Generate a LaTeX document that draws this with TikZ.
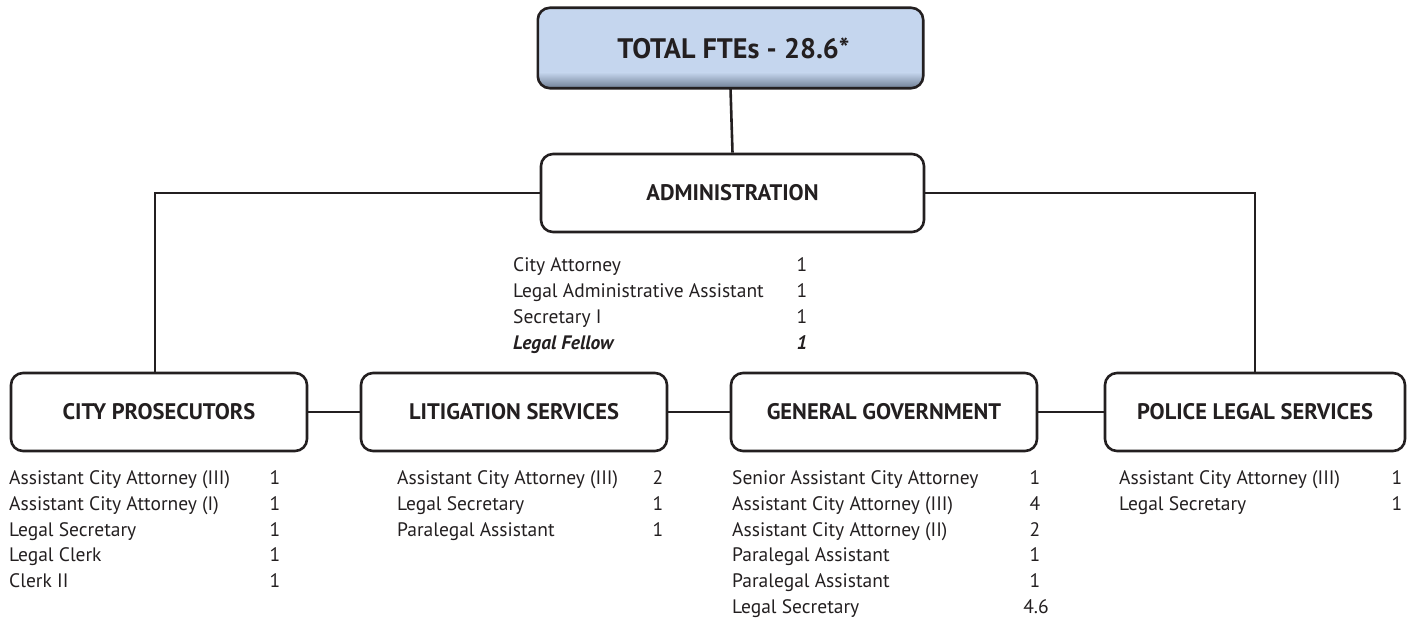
\documentclass[tikz,border=0pt]{standalone}
\usepackage{fontspec}
\setmainfont{PT Sans}
\usetikzlibrary{calc}
\definecolor{txt}{HTML}{231F20}
\definecolor{topfill}{HTML}{C5D6EE}
\definecolor{topshade}{HTML}{6F7E94}
\begin{document}
\begin{tikzpicture}[x=1pt,y=-1pt,
  box/.style={draw=txt, line width=2.6pt, rounded corners=12pt, minimum width=#1, minimum height=78pt,
    font=\fontsize{22.5}{26}\selectfont\bfseries, text=txt, inner sep=0pt},
  conn/.style={draw=txt, line width=2.6pt},
  item/.style={anchor=base west, inner sep=0pt, font=\fontsize{19.5}{22}\selectfont, text=txt},
  num/.style={anchor=base, inner sep=0pt, font=\fontsize{19.5}{22}\selectfont, text=txt},
]
\useasboundingbox (0,0) rectangle (1416,618);

% top box
\node[minimum width=385pt, minimum height=80pt, inner sep=0pt] (top) at (730.5,48) {};
\fill[topfill, rounded corners=12pt] (top.south west) rectangle (top.north east);
\begin{scope}
  \clip[rounded corners=12pt] (top.south west) rectangle (top.north east);
  \shade[top color=topfill, bottom color=topshade] ($(top.south west)+(0,-16)$) rectangle (top.south east);
\end{scope}
\draw[txt, line width=2.6pt, rounded corners=12pt] (top.south west) rectangle (top.north east);
\node[font=\fontsize{28.2}{32}\selectfont\bfseries, text=txt] (toptext) at ($(top)+(3,0)$) {TOTAL FTEs - 28.6*};

% boxes
\node[box=383pt] (admin) at (732.5,193) {ADMINISTRATION};
\node[box=296pt] (cp) at (159,412) {CITY PROSECUTORS};
\node[box=306pt] (lit) at (514,412) {LITIGATION SERVICES};
\node[box=306pt] (gg) at (884,412) {GENERAL GOVERNMENT};
\node[box=300pt] (pol) at (1255,412) {POLICE LEGAL SERVICES};
\coordinate (cpin) at ($(cp.north)+(-4,0)$);

% connectors
\draw[conn] (top.south) -- (admin.north);
\draw[conn] (admin.west) -| (cpin);
\draw[conn] (admin.east) -| (pol.north);
\draw[conn] (cp.east) -- (lit.west);
\draw[conn] (lit.east) -- (gg.west);
\draw[conn] (gg.east) -- (pol.west);

% admin list
\node[item] (a1) at (513,271) {City Attorney};
\node[num] (a1n) at (802,271) {1};
\node[item] (a2) at (513,297) {Legal Administrative Assistant};
\node[num] (a2n) at (802,297) {1};
\node[item] (a3) at (513,323) {Secretary I};
\node[num] (a3n) at (802,323) {1};
\node[item, font=\fontsize{19.5}{22}\selectfont\bfseries\itshape] (a4) at (513,349) {Legal Fellow};
\node[num, font=\fontsize{19.5}{22}\selectfont\bfseries\itshape] (a4n) at (802,349) {1};

% city prosecutors list
\node[item] (c1) at (9,484) {Assistant City Attorney (III)};
\node[num] (c1n) at (275,484) {1};
\node[item] (c2) at (9,510) {Assistant City Attorney (I)};
\node[num] (c2n) at (275,510) {1};
\node[item] (c3) at (9,536) {Legal Secretary};
\node[num] (c3n) at (275,536) {1};
\node[item] (c4) at (9,561) {Legal Clerk};
\node[num] (c4n) at (275,561) {1};
\node[item] (c5) at (9,587) {Clerk II};
\node[num] (c5n) at (275,587) {1};

% litigation list
\node[item] (l1) at (397,484) {Assistant City Attorney (III)};
\node[num] (l1n) at (658,484) {2};
\node[item] (l2) at (397,510) {Legal Secretary};
\node[num] (l2n) at (658,510) {1};
\node[item] (l3) at (397,536) {Paralegal Assistant};
\node[num] (l3n) at (658,536) {1};

% general government list
\node[item] (g1) at (732,484) {Senior Assistant City Attorney};
\node[num] (g1n) at (1035,484) {1};
\node[item] (g2) at (732,510) {Assistant City Attorney (III)};
\node[num] (g2n) at (1035,510) {4};
\node[item] (g3) at (732,536) {Assistant City Attorney (II)};
\node[num] (g3n) at (1035,536) {2};
\node[item] (g4) at (732,561) {Paralegal Assistant};
\node[num] (g4n) at (1035,561) {1};
\node[item] (g5) at (732,587) {Paralegal Assistant};
\node[num] (g5n) at (1035,587) {1};
\node[item] (g6) at (732,613) {Legal Secretary};
\node[num] (g6n) at (1036,613) {4.6};

% police list
\node[item] (p1) at (1119,484) {Assistant City Attorney (III)};
\node[num] (p1n) at (1397,484) {1};
\node[item] (p2) at (1119,510) {Legal Secretary};
\node[num] (p2n) at (1397,510) {1};
\end{tikzpicture}
\end{document}
